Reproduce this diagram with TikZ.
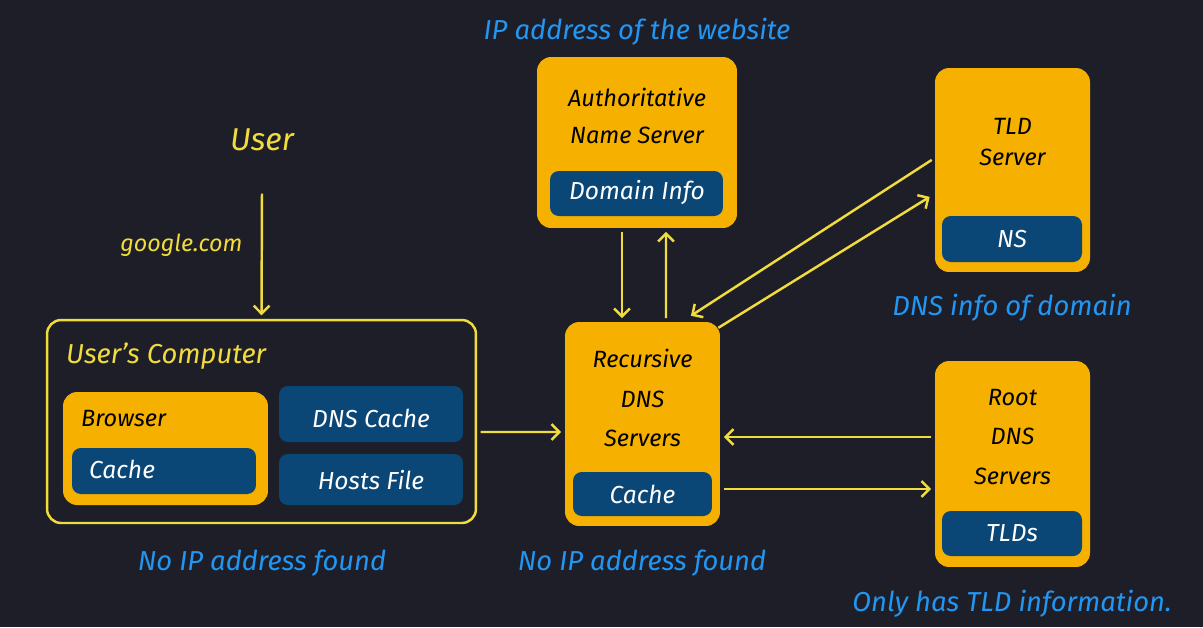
\documentclass[tikz,border=0pt]{standalone}
\usepackage{fontspec}
\setmainfont{Fira Sans}
\usetikzlibrary{arrows.meta,calc}
\definecolor{bgdark}{HTML}{1E1E29}
\definecolor{boxgold}{HTML}{F5B000}
\definecolor{boxnavy}{HTML}{0A4676}
\definecolor{lineyel}{HTML}{F0DC3C}
\definecolor{noteblue}{HTML}{2196F3}
\begin{document}
\begin{tikzpicture}[x=0.02cm,y=-0.02cm]
        \tikzstyle{server}=[rectangle,rounded corners=8pt,fill=boxgold,inner sep=0pt]
        \tikzstyle{store}=[rectangle,rounded corners=5pt,fill=boxnavy,inner sep=0pt]
        \tikzstyle{title}=[text=black,font=\itshape\fontsize{13.4}{22}\selectfont,align=center]
        \tikzstyle{data}=[text=white,font=\itshape\fontsize{14}{16}\selectfont]
        \tikzstyle{note}=[text=noteblue,font=\itshape\fontsize{15.6}{18}\selectfont]
        \tikzstyle{flow}=[draw=lineyel,line width=1.4pt,-{Straight Barb[length=4.5pt,width=9pt]},shorten >=2pt,shorten <=2pt]
        \fill[bgdark] (0,0) rectangle (1203,627);
        \useasboundingbox (0,0) rectangle (1203,627);
        % user side
        \node [text=lineyel,font=\itshape\fontsize{18}{20}\selectfont] (user) at (262,140) {User};
        \coordinate (userout) at (262,190);
        \node [rectangle,rounded corners=8pt,draw=lineyel,line width=1.4pt,minimum width=8.58cm,minimum height=4.06cm] (comp) at (261.5,421.5) {};
        \node [text=lineyel,font=\itshape\fontsize{15.6}{18}\selectfont,anchor=west] (comptitle) at (60,356) {User’s Computer};
        \node [server,minimum width=4.1cm,minimum height=2.26cm] (browser) at (165.5,448.5) {};
        \node [title,anchor=west] (browsertitle) at (75,419) {Browser};
        \node [store,minimum width=3.68cm,minimum height=0.92cm] (bcache) at (164,471) {};
        \node [data,anchor=west] at (83,469) {Cache};
        \node [store,minimum width=3.68cm,minimum height=1.12cm] (dnscache) at (371,414) {};
        \node [data] at (371,418) {DNS Cache};
        \node [store,minimum width=3.68cm,minimum height=1.02cm] (hosts) at (371,479.5) {};
        \node [data] at (371,480) {Hosts File};
        \node [note] (nofound1) at (262,563) {No IP address found};
        % resolver
        \node [server,minimum width=3.1cm,minimum height=4.08cm] (rec) at (642.5,424) {};
        \node [title,font=\itshape\fontsize{13.4}{22.7}\selectfont] at (642.5,398) {Recursive\\DNS\\Servers};
        \node [store,minimum width=2.78cm,minimum height=0.88cm] (reccache) at (642.5,494) {};
        \node [data] at (642.5,494) {Cache};
        \node [note] (nofound2) at (642,563) {No IP address found};
        % authoritative
        \node [note] (ipnote) at (637,32) {IP address of the website};
        \node [server,minimum width=4cm,minimum height=3.42cm] (auth) at (637,142.5) {};
        \node [title,font=\itshape\fontsize{13.4}{21.5}\selectfont] at (637,116) {Authoritative\\Name Server};
        \node [store,minimum width=3.46cm,minimum height=0.9cm] (authinfo) at (636.5,193.5) {};
        \node [data] at (637,193) {Domain Info};
        % tld
        \node [server,minimum width=3.1cm,minimum height=4.08cm] (tld) at (1012.5,170) {};
        \node [title,font=\itshape\fontsize{13.4}{18}\selectfont] at (1012.5,142) {TLD\\Server};
        \node [store,minimum width=2.8cm,minimum height=0.92cm] (tldns) at (1012,239) {};
        \node [data] at (1012,239) {NS};
        \node [note] (tldnote) at (1012,308) {DNS info of domain};
        % root
        \node [server,minimum width=3.1cm,minimum height=4.12cm] (root) at (1012.5,464) {};
        \node [title,font=\itshape\fontsize{13.4}{22.7}\selectfont] at (1012.5,437) {Root\\DNS\\Servers};
        \node [store,minimum width=2.8cm,minimum height=0.9cm] (roottld) at (1012,533.5) {};
        \node [data] at (1012,533.5) {TLDs};
        \node [note] (rootnote) at (1012,604) {Only has TLD information.};
        % lookups
        \path[flow] (userout) -- (comp.north) node[pos=0.43,left,xshift=-7pt,text=lineyel,font=\itshape\fontsize{13.3}{15}\selectfont] {google.com};
        \path[flow] ($(comp.east)+(0,10.5)$) -- ($(rec.west)+(0,8)$);
        \path[flow] ($(auth.south)+(-15,0)$) -- ($(rec.north)+(-20.5,0)$);
        \path[flow] ($(rec.north)+(23.5,0)$) -- ($(auth.south)+(29,0)$);
        \path[flow] ($(tld.west)+(0,-12)$) -- ($(rec.north)+(45.5,-4)$);
        \path[flow] ($(rec.north east)+(-5,8)$) -- ($(tld.west)+(-2,25)$);
        \path[flow] ($(root.west)+(0,-27)$) -- ($(rec.east)+(0,13)$);
        \path[flow] ($(rec.east)+(0,65)$) -- ($(root.west)+(0,25)$);
\end{tikzpicture}
\end{document}
